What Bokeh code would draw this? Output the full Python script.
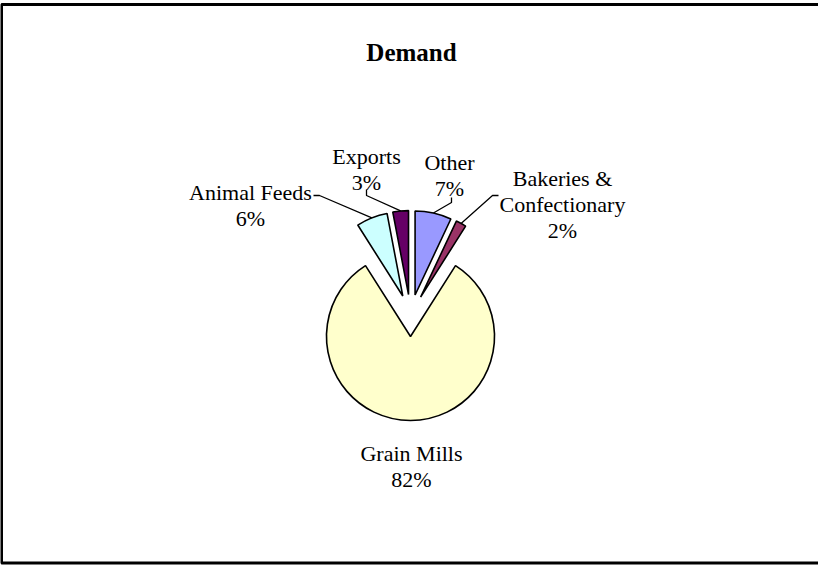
import math
from bokeh.plotting import figure
from bokeh.models import Range1d, ColumnDataSource
from bokeh.embed import file_html
from bokeh.resources import INLINE
from bokeh.core.properties import value

# ---- data (clockwise from 12 o'clock) ----
categories = ["Other", "Bakeries & Confectionary", "Grain Mills", "Animal Feeds", "Exports"]
shares = [7, 2, 82, 6, 3]
pct_labels = ["7%", "2%", "82%", "6%", "3%"]
name_lines = [["Other"], ["Bakeries &", "Confectionary"], ["Grain Mills"], ["Animal Feeds"], ["Exports"]]
colors = ["#9999FF", "#993366", "#FFFFCC", "#CCFFFF", "#660066"]
title_text = "Demand"

# ---- layout (screen px) ----
W, H = 818, 566


def sx(x):
    return x


def sy(y):
    return H - y


CX, CY = 410, 315          # pie centre (screen)
R = 84                     # radius
EXPLODE = 21               # explosion distance
LINE_H = 26
label_pos = [(449, 162), (562, 178), (411, 453), (250, 192), (366, 156)]
leader_start = [[(451, 197), (451, 202)], [(498, 195), (492, 195)], None,
                [(313, 195), (319, 195)], [(366, 189), (366, 195)]]

p = figure(width=W, height=H, output_backend="svg", toolbar_location=None,
           x_range=Range1d(0, W), y_range=Range1d(0, H),
           x_axis_type=None, y_axis_type=None, min_border=0)
p.grid.visible = False
p.outline_line_color = None
p.background_fill_color = "white"
p.border_fill_color = "white"

# chart-area border
p.quad(left=[sx(1)], right=[sx(830)], top=[sy(4)], bottom=[sy(562.5)],
       fill_color=None, line_color="black", line_width=3)

total = float(sum(shares))
xs, ys, starts, ends, mids = [], [], [], [], []
cum = 0.0
for s in shares:
    phi1 = cum / total * 2 * math.pi
    cum += s
    phi2 = cum / total * 2 * math.pi
    pm = (phi1 + phi2) / 2
    cx = CX + EXPLODE * math.sin(pm)
    cy = CY - EXPLODE * math.cos(pm)
    xs.append(sx(cx))
    ys.append(sy(cy))
    starts.append(math.pi / 2 - phi2)
    ends.append(math.pi / 2 - phi1)
    mids.append((cx, cy, pm))

src = ColumnDataSource(dict(x=xs, y=ys, start=starts, end=ends, color=colors, name=categories))
p.wedge(x="x", y="y", radius=R, start_angle="start", end_angle="end",
        fill_color="color", line_color="black", line_width=1.6, source=src)

# leader lines
for i, ls in enumerate(leader_start):
    if ls is None:
        continue
    cx, cy, pm = mids[i]
    ex = cx + R * math.sin(pm)
    ey = cy - R * math.cos(pm)
    pts = ls + [(ex, ey)]
    p.line([sx(a) for a, b in pts], [sy(b) for a, b in pts], line_color="black", line_width=1.3)

# labels
tx, ty, tt = [], [], []
for i in range(len(categories)):
    lx, ly = label_pos[i]
    lines = name_lines[i] + [pct_labels[i]]
    for k, t in enumerate(lines):
        tx.append(sx(lx))
        ty.append(sy(ly + k * LINE_H))
        tt.append(t)
p.text(x=tx, y=ty, text=tt, text_align="center", text_baseline="alphabetic",
       text_font=value("Liberation Serif"), text_font_size=value("22px"), text_color="black")

# title
p.text(x=[sx(411)], y=[sy(52)], text=[title_text], text_align="center", text_baseline="alphabetic",
       text_font=value("Liberation Serif"), text_font_size=value("25px"), text_font_style="bold",
       text_color="black")

open("out.html", "w").write(file_html(p, INLINE))
